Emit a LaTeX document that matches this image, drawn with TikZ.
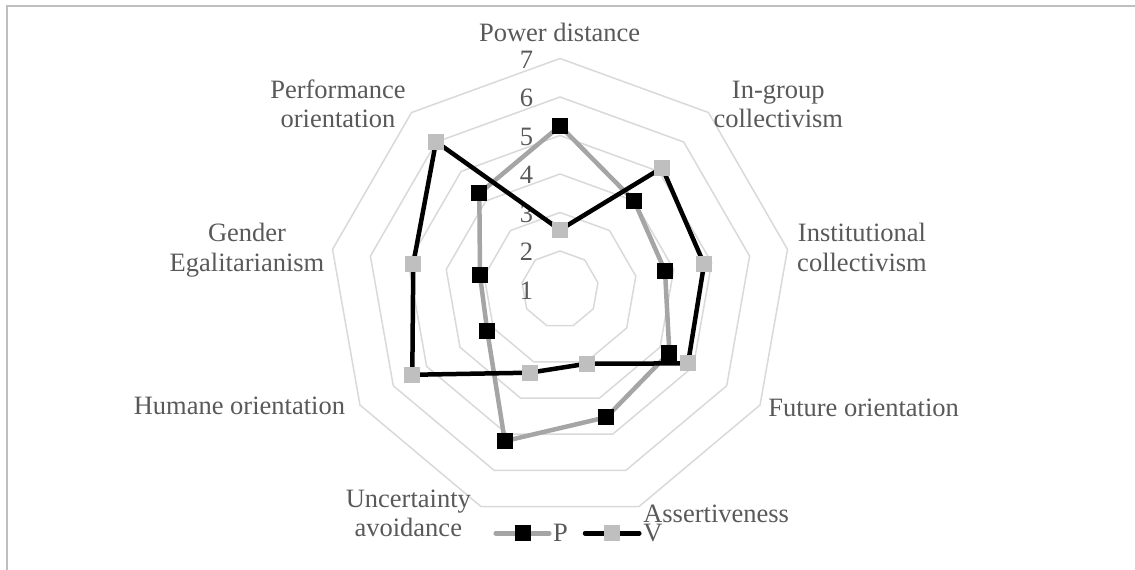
\documentclass[tikz,border=0pt]{standalone}
\usepackage{fontspec}
\setmainfont{Liberation Serif}
\definecolor{txtgray}{HTML}{595959}
\definecolor{ringgray}{HTML}{D9D9D9}
\definecolor{pline}{HTML}{A5A5A5}
\definecolor{vmark}{HTML}{BFBFBF}
\definecolor{framegray}{HTML}{BFBFBF}
\begin{document}
\begin{tikzpicture}[x=1pt,y=1pt,
  lbl/.style={text=txtgray, font=\fontsize{26.5}{29.5}\selectfont, inner sep=0pt, outer sep=0pt, align=center},
  ring/.style={draw=ringgray, line width=1.5pt, line join=miter},
  pseries/.style={draw=pline, line width=4.5pt, line join=round, line cap=round},
  vseries/.style={draw=black, line width=4.5pt, line join=round, line cap=round},
  pmark/.style={fill=black, minimum size=16pt, inner sep=0pt, outer sep=0pt},
  vmarkst/.style={fill=vmark, minimum size=16pt, inner sep=0pt, outer sep=0pt},
]
\useasboundingbox (0,0) rectangle (1135,570);
% chart frame (top and left edges)
\draw[framegray, line width=2pt] (7.3,0) -- (7.3,564) -- (1135,564);

\begin{scope}[shift={(560,280.5)}]
  % grid rings for values 2..7 (value 1 sits at the centre)
  \foreach \v in {2,...,7} {
    \draw[ring] (90:{(\v-1)*38.5}) \foreach \k in {1,...,8} { -- ({90-40*\k}:{(\v-1)*38.5}) } -- cycle;
  }
  % scale labels
  \foreach \v in {1,...,7} {
    \node[lbl, anchor=east] (tick\v) at (-27,{(\v-1)*38.5-1}) {\v};
  }
  % series P
  \foreach \val [count=\k from 0] in {5.25,4.00,3.77,4.28,4.53,5.19,3.18,3.11,4.26} {
    \coordinate (p\k) at ({90-40*\k}:{(\val-1)*38.5});
  }
  % series V
  \foreach \val [count=\k from 0] in {2.55,5.13,4.80,4.84,3.05,3.30,5.43,4.87,6.01} {
    \coordinate (v\k) at ({90-40*\k}:{(\val-1)*38.5});
  }
  \draw[pseries] (p0) -- (p1) -- (p2) -- (p3) -- (p4) -- (p5) -- (p6) -- (p7) -- (p8) -- cycle;
  \foreach \k in {0,...,8} { \node[pmark] (pm\k) at (p\k) {}; }
  \draw[vseries] (v0) -- (v1) -- (v2) -- (v3) -- (v4) -- (v5) -- (v6) -- (v7) -- (v8) -- cycle;
  \foreach \k in {0,...,8} { \node[vmarkst] (vm\k) at (v\k) {}; }
\end{scope}

% category labels (two-line labels are placed by the baseline of their last line)
\node[lbl, anchor=base] (c0) at (559.6,528.3) {Power distance};
\node[lbl, anchor=base] (c1) at (778.3,442) {In-group\\collectivism};
\node[lbl, anchor=base] (c2) at (862,298.8) {Institutional\\collectivism};
\node[lbl, anchor=base west] (c3) at (768.3,153.3) {Future orientation};
\node[lbl, anchor=base west] (c4) at (643.3,47) {Assertiveness};
\node[lbl, anchor=base] (c5) at (408.3,33) {Uncertainty\\avoidance};
\node[lbl, anchor=base east] (c6) at (345,155) {Humane orientation};
\node[lbl, anchor=base] (c7) at (247,298.8) {Gender\\Egalitarianism};
\node[lbl, anchor=base] (c8) at (338,442.2) {Performance\\orientation};

% legend
\coordinate (lpa) at (495.7,36.7);
\coordinate (lpb) at (549.3,36.7);
\draw[pseries] (lpa) -- (lpb);
\node[pmark] (lpm) at (522.5,36.7) {};
\node[lbl, anchor=base west] (lpt) at (553,28.3) {P};
\coordinate (lva) at (585,36.7);
\coordinate (lvb) at (639.3,36.7);
\draw[vseries] (lva) -- (lvb);
\node[vmarkst] (lvm) at (612.3,36.7) {};
\node[lbl, anchor=base west] (lvt) at (643.3,28.3) {V};
\end{tikzpicture}
\end{document}
